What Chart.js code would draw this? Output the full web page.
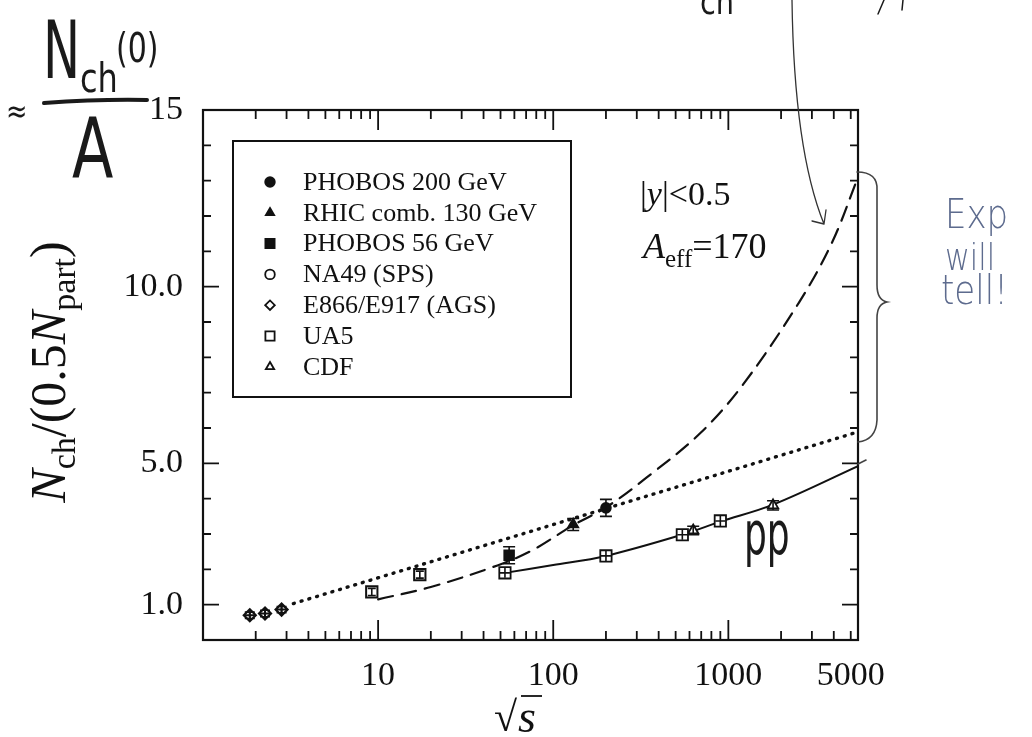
<!DOCTYPE html>
<html>
<head>
<meta charset="utf-8">
<script src="https://cdn.jsdelivr.net/npm/chart.js@4.4.1/dist/chart.umd.min.js"></script>
<style>
html, body { margin: 0; padding: 0; background: #fff; }
#wrap { width: 1032px; height: 737px; }
</style>
</head>
<body>
<div id="wrap"><canvas id="multChart" width="1032" height="737"></canvas></div>
<script>
// values (x = sqrt(s) in GeV, y = Nch/(0.5 Npart))
const phobos200X = [200];
const phobos200Y = [3.74];
const phobos200Err = [0.24];

const rhic130X = [130];
const rhic130Y = [3.27];
const rhic130Err = [0.17];

const phobos56X = [56];
const phobos56Y = [2.40];
const phobos56Err = [0.24];

const na49X = [9.2, 17.3];
const na49Y = [1.36, 1.85];
const na49Err = [0.1, 0.1];

const agsX = [1.85, 2.26, 2.81];
const agsY = [0.70, 0.75, 0.86];
const agsErr = [0.09, 0.09, 0.09];

const ua5X = [53, 200, 546, 900];
const ua5Y = [1.90, 2.38, 2.98, 3.37];

const cdfX = [630, 1800];
const cdfY = [3.10, 3.81];
const cdfErr = [0.12, 0.13];

// curves
const ppFitX = [53, 100, 200, 546, 900, 1800, 5500];
const ppFitY = [1.90, 2.12, 2.38, 2.98, 3.35, 3.83, 4.92];

const dashX = [10, 20, 48, 76, 130, 200, 342, 690, 1200, 2530, 3910, 5500];
const dashY = [1.15, 1.50, 2.11, 2.54, 3.25, 3.75, 4.6, 5.85, 7.2, 9.55, 11.25, 13.1];

const dotX = [3.28, 5500];
const dotY = [1.03, 5.89];

// axes
const xMin = 1, xMax = 5500;
const yMin = 0, yMax = 15;
const xTickLabels = [10, 100, 1000, 5000];
const xMajorTicks = [10, 100, 1000];
const yTickValues = [1, 5, 10, 15];
const yTickText = ['1.0', '5.0', '10.0', '15'];
const yMajorTicks = [1, 5, 10];

const SERIF = "'Liberation Serif', 'Times New Roman', serif";
const HAND = "'DejaVu Sans', sans-serif";
const INK = '#111';

const legendNames = ['PHOBOS 200 GeV', 'RHIC comb. 130 GeV', 'PHOBOS 56 GeV', 'NA49 (SPS)', 'E866/E917 (AGS)', 'UA5', 'CDF'];
const legendStyles = ['circle', 'triangle', 'rect', 'circle', 'rectRot', 'rect', 'triangle'];
const legendFilled = [true, true, true, false, false, false, false];

function pts(xs, ys) {
    return xs.map((x, i) => ({ x: x, y: ys[i] }));
}

function markerSet(label, xs, ys, style, radius, filled, bw) {
    return {
        label: label,
        data: pts(xs, ys),
        showLine: false,
        pointStyle: style,
        pointRadius: radius,
        pointBorderWidth: bw || 1.6,
        pointBorderColor: INK,
        pointBackgroundColor: filled ? INK : '#fff'
    };
}

function curveSet(label, xs, ys, dash, width) {
    return {
        label: label,
        data: pts(xs, ys),
        showLine: true,
        pointRadius: 0,
        borderColor: INK,
        borderWidth: width,
        borderDash: dash,
        borderCapStyle: 'round',
        tension: 0.35,
        fill: false
    };
}

const datasets = [
    markerSet('PHOBOS 200 GeV', phobos200X, phobos200Y, 'circle', 5, true),
    markerSet('RHIC comb. 130 GeV', rhic130X, rhic130Y, 'triangle', 6, true),
    markerSet('PHOBOS 56 GeV', phobos56X, phobos56Y, 'rect', 7, true),
    markerSet('NA49 (SPS)', na49X, na49Y, 'rect', 8, false, 2),
    markerSet('E866/E917 (AGS) cross', agsX, agsY, 'cross', 5, false, 2),
    markerSet('E866/E917 (AGS)', agsX, agsY, 'rectRot', 6, false, 2.2),
    markerSet('UA5 cross', ua5X, ua5Y, 'cross', 5, false),
    markerSet('UA5', ua5X, ua5Y, 'rect', 8, false, 1.8),
    markerSet('CDF', cdfX, cdfY, 'triangle', 6, false, 1.8),
    curveSet('pp fit', ppFitX, ppFitY, [], 2),
    curveSet('AA dashed', dashX, dashY, [15, 9], 2.2),
    curveSet('log trend', dotX, dotY, [1, 7], 3.4)
];

const errorSeries = [
    { x: phobos200X, y: phobos200Y, err: phobos200Err, cap: 6 },
    { x: rhic130X, y: rhic130Y, err: rhic130Err, cap: 6 },
    { x: phobos56X, y: phobos56Y, err: phobos56Err, cap: 6 },
    { x: na49X, y: na49Y, err: na49Err, cap: 4 },
    { x: agsX, y: agsY, err: agsErr, cap: 5 },
    { x: cdfX, y: cdfY, err: cdfErr, cap: 6 }
];

function drawParts(ctx, parts, x, y) {
    let cx = x;
    parts.forEach(p => {
        ctx.font = (p.italic ? 'italic ' : '') + p.size + 'px ' + SERIF;
        ctx.fillText(p.text, cx, y + (p.dy || 0));
        cx += ctx.measureText(p.text).width;
    });
    return cx - x;
}

function measureParts(ctx, parts) {
    let w = 0;
    parts.forEach(p => {
        ctx.font = (p.italic ? 'italic ' : '') + p.size + 'px ' + SERIF;
        w += ctx.measureText(p.text).width;
    });
    return w;
}

function hand(ctx, text, x, y, size, sx, color, weight) {
    ctx.save();
    ctx.translate(x, y);
    ctx.scale(sx, 1);
    ctx.font = (weight || 'normal') + ' ' + size + 'px ' + HAND;
    ctx.fillStyle = color;
    ctx.textAlign = 'left';
    ctx.textBaseline = 'alphabetic';
    ctx.fillText(text, 0, 0);
    ctx.restore();
}

const framePlugin = {
    id: 'framePlugin',
    afterDatasetsDraw(chart) {
        const ctx = chart.ctx;
        const a = chart.chartArea;
        const xs = chart.scales.x;
        const ys = chart.scales.y;
        ctx.save();

        // error bars
        ctx.strokeStyle = INK;
        ctx.lineWidth = 1.6;
        errorSeries.forEach(s => {
            s.x.forEach((xv, i) => {
                const px = xs.getPixelForValue(xv);
                const top = ys.getPixelForValue(s.y[i] + s.err[i]);
                const bot = ys.getPixelForValue(s.y[i] - s.err[i]);
                ctx.beginPath();
                ctx.moveTo(px, top); ctx.lineTo(px, bot);
                ctx.moveTo(px - s.cap, top); ctx.lineTo(px + s.cap, top);
                ctx.moveTo(px - s.cap, bot); ctx.lineTo(px + s.cap, bot);
                ctx.stroke();
            });
        });

        // frame
        ctx.lineWidth = 2.2;
        ctx.strokeRect(a.left, a.top, a.right - a.left, a.bottom - a.top);

        // inward ticks, all four sides
        ctx.lineWidth = 1.8;
        ctx.beginPath();
        for (let v = yMin + 1; v < yMax; v++) {
            const py = ys.getPixelForValue(v);
            const len = yMajorTicks.includes(v) ? 16 : 8;
            ctx.moveTo(a.left, py); ctx.lineTo(a.left + len, py);
            ctx.moveTo(a.right, py); ctx.lineTo(a.right - len, py);
        }
        for (let dec = 1; dec <= 1000; dec *= 10) {
            for (let m = 1; m <= 9; m++) {
                const v = m * dec;
                if (v <= xMin || v >= xMax) continue;
                const px = xs.getPixelForValue(v);
                const len = xMajorTicks.includes(v) ? 20 : 9;
                ctx.moveTo(px, a.bottom); ctx.lineTo(px, a.bottom - len);
                ctx.moveTo(px, a.top); ctx.lineTo(px, a.top + len);
            }
        }
        ctx.stroke();

        // legend
        const lx = 233, ly = 141, lw = 338, lh = 256;
        ctx.fillStyle = '#fff';
        ctx.fillRect(lx, ly, lw, lh);
        ctx.lineWidth = 2;
        ctx.strokeRect(lx, ly, lw, lh);
        ctx.textAlign = 'left';
        ctx.textBaseline = 'middle';
        legendNames.forEach((name, i) => {
            const ry = 182 + i * 30.8;
            ctx.fillStyle = legendFilled[i] ? INK : '#fff';
            ctx.strokeStyle = INK;
            ctx.lineWidth = 1.8;
            const r = legendStyles[i] === 'rect' ? 6.5 : 4.8;
            Chart.helpers.drawPoint(ctx, { pointStyle: legendStyles[i], radius: r, rotation: 0, borderWidth: 1.8 }, 270, ry);
            ctx.fillStyle = INK;
            ctx.font = '26px ' + SERIF;
            ctx.fillText(name, 303, ry + 1);
        });

        // cut annotation
        ctx.fillStyle = INK;
        ctx.textBaseline = 'alphabetic';
        drawParts(ctx, [
            { text: '|', size: 34 },
            { text: 'y', size: 34, italic: true },
            { text: '|<0.5', size: 34 }
        ], 640, 205);
        drawParts(ctx, [
            { text: 'A', size: 36, italic: true },
            { text: 'eff', size: 25, dy: 9 },
            { text: '=170', size: 36 }
        ], 643, 258);

        // y axis title
        ctx.save();
        ctx.translate(65, 372);
        ctx.rotate(-Math.PI / 2);
        const yTitle = [
            { text: 'N', size: 50, italic: true },
            { text: 'ch', size: 34, dy: 10 },
            { text: '/(0.5', size: 50 },
            { text: 'N', size: 50, italic: true },
            { text: 'part', size: 34, dy: 10 },
            { text: ')', size: 50 }
        ];
        drawParts(ctx, yTitle, -measureParts(ctx, yTitle) / 2, 0);
        ctx.restore();

        // x axis title: sqrt(s)
        ctx.font = '42px ' + SERIF;
        ctx.fillText('\u221A', 494, 731);
        ctx.beginPath();
        ctx.lineWidth = 1.8;
        ctx.moveTo(521, 696); ctx.lineTo(542, 696);
        ctx.stroke();
        ctx.font = 'italic 46px ' + SERIF;
        ctx.fillText('s', 518, 732);

        // handwritten notes
        const pen = '#1a1a1a';
        const blue = '#5d6b8e';
        hand(ctx, 'N', 43, 78, 80, 0.62, pen);
        hand(ctx, 'ch', 80, 92, 40, 0.8, pen);
        hand(ctx, '(0)', 116, 62, 40, 0.75, pen);
        hand(ctx, '\u2248', 6, 122, 32, 0.8, pen);
        hand(ctx, 'A', 72, 178, 84, 0.72, pen);
        ctx.strokeStyle = pen;
        ctx.lineWidth = 4;
        ctx.lineCap = 'round';
        ctx.beginPath();
        ctx.moveTo(44, 103); ctx.quadraticCurveTo(100, 99, 147, 100);
        ctx.stroke();

        hand(ctx, 'ch', 700, 14, 36, 0.8, pen);
        hand(ctx, 'N', 676, 0, 40, 0.8, pen);
        ctx.lineWidth = 1.5;
        ctx.beginPath();
        ctx.moveTo(884, 0); ctx.lineTo(878, 14);
        ctx.moveTo(903, 0); ctx.lineTo(902, 10);
        ctx.stroke();

        // arrow to the dashed curve
        ctx.strokeStyle = '#333';
        ctx.lineWidth = 1.3;
        ctx.beginPath();
        ctx.moveTo(792, 0);
        ctx.quadraticCurveTo(794, 150, 824, 224);
        ctx.moveTo(824, 224); ctx.lineTo(812, 221);
        ctx.moveTo(824, 224); ctx.lineTo(826, 210);
        ctx.stroke();

        // brace
        ctx.strokeStyle = '#444';
        ctx.lineWidth = 1.6;
        ctx.beginPath();
        ctx.moveTo(857, 172);
        ctx.quadraticCurveTo(878, 172, 877, 190);
        ctx.lineTo(877, 285);
        ctx.quadraticCurveTo(877, 300, 887, 302);
        ctx.quadraticCurveTo(877, 304, 877, 318);
        ctx.lineTo(877, 420);
        ctx.quadraticCurveTo(876, 440, 858, 442);
        ctx.moveTo(858, 464); ctx.lineTo(866, 460);
        ctx.stroke();

        hand(ctx, 'Exp', 945, 228, 40, 0.85, blue, 200);
        hand(ctx, 'will', 945, 270, 38, 0.8, blue, 200);
        hand(ctx, 'tell!', 941, 304, 40, 0.85, blue, 200);

        hand(ctx, 'pp', 744, 554, 60, 0.6, pen);

        ctx.restore();
    }
};

const chartCanvas = document.getElementById('multChart');

new Chart(chartCanvas, {
    type: 'scatter',
    data: { datasets: datasets },
    options: {
        responsive: false,
        animation: false,
        layout: { padding: { left: 0, right: 174, top: 110, bottom: 0 } },
        plugins: {
            legend: { display: false },
            tooltip: { enabled: false }
        },
        scales: {
            x: {
                type: 'logarithmic',
                min: xMin,
                max: xMax,
                grid: { display: false, drawTicks: false },
                border: { display: false },
                afterBuildTicks: s => { s.ticks = xTickLabels.map(v => ({ value: v })); },
                afterFit: s => { s.height = 97; },
                ticks: {
                    autoSkip: false,
                    maxRotation: 0,
                    padding: 16,
                    color: INK,
                    font: { family: SERIF, size: 34 },
                    callback: v => xTickLabels.includes(v) ? String(v) : ''
                }
            },
            y: {
                type: 'linear',
                min: yMin,
                max: yMax,
                grid: { display: false, drawTicks: false },
                border: { display: false },
                afterBuildTicks: s => { s.ticks = yTickValues.map(v => ({ value: v })); },
                afterFit: s => { s.width = 203; },
                ticks: {
                    padding: 20,
                    color: INK,
                    font: { family: SERIF, size: 34 },
                    callback: v => yTickText[yTickValues.indexOf(v)] || ''
                }
            }
        }
    },
    plugins: [framePlugin]
});
</script>
</body>
</html>
